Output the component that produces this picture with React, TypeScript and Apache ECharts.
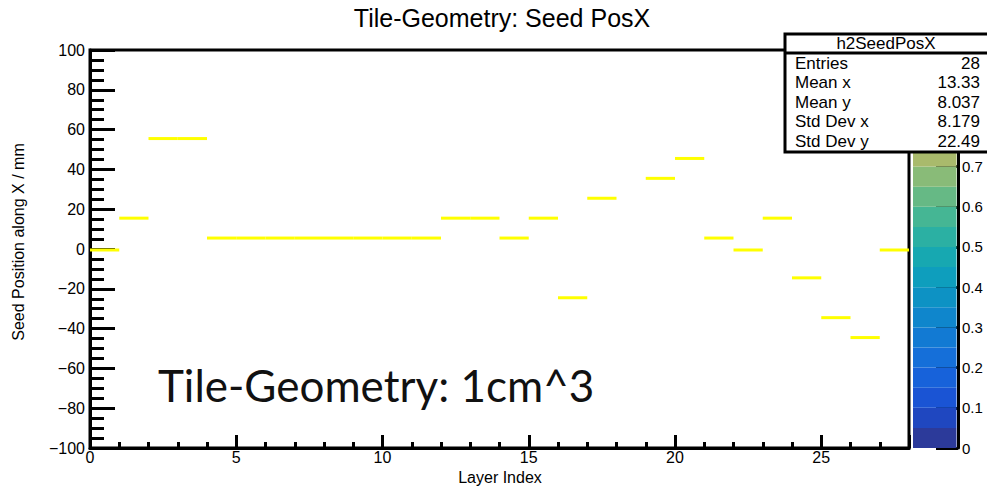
import React, { useEffect, useRef } from "react";
import * as echarts from "echarts";

// ---- data ----
const layerIndex = [0, 1, 2, 3, 4, 5, 6, 7, 8, 9, 10, 11, 12, 13, 14, 15, 16, 17, 19, 20, 21, 22, 23, 24, 25, 26, 27];
const seedPosX = [-0.5, 15.5, 55.5, 55.5, 5.5, 5.5, 5.5, 5.5, 5.5, 5.5, 5.5, 5.5, 15.5, 15.5, 5.5, 15.5, -24.5, 25.5, 35.5, 45.5, 5.5, -0.5, 15.5, -14.5, -34.5, -44.5, -0.5];
const statsLabels = ["Entries", "Mean x", "Mean y", "Std Dev x", "Std Dev y"];
const statsValues = ["28", "13.33", "8.037", "8.179", "22.49"];
const zPalette = [
  "#2c3a9a", "#1f47c0", "#1a54d4", "#1762da", "#156fd9", "#127ad3", "#0f86cc", "#0d92c4",
  "#0e9ebd", "#17a8b1", "#2bb0a3", "#45b694", "#66b985", "#89bb78", "#a9ba6c", "#c6b961",
  "#dcbb53", "#ecc444", "#f6d832", "#f9ef1f",
];
const zStep = 0.05;
const zMax = 0.99;

const FONT = "'Liberation Sans', Arial, sans-serif";

export default function App() {
  const ref = useRef<HTMLDivElement>(null);
  useEffect(() => {
    if (!ref.current) return;
    const chart = echarts.init(ref.current, null, { renderer: "svg" });
    const minus = (v: number) => String(v).replace("-", "\u2212");
    const segData = layerIndex.map((x, i) => [x, seedPosX[i]]);
    const bandData = zPalette.map((_, i) => [i * zStep, Math.min((i + 1) * zStep, zMax), i]);

    const statsChildren: any[] = [];
    statsLabels.forEach((l, i) => {
      const cy = 63 + i * 19.5;
      statsChildren.push({
        type: "text", x: 795, y: cy, z: 102,
        style: { text: l, font: `17px ${FONT}`, fill: "#000", textVerticalAlign: "middle", textAlign: "left" },
      });
      statsChildren.push({
        type: "text", x: 980, y: cy, z: 102,
        style: { text: statsValues[i], font: `17px ${FONT}`, fill: "#000", textVerticalAlign: "middle", textAlign: "right" },
      });
    });

    chart.setOption({
      animation: false,
      backgroundColor: "#fff",
      textStyle: { fontFamily: FONT },
      grid: [
        { left: 90, right: 78, top: 50, bottom: 39, show: true, borderColor: "#000", borderWidth: 3, containLabel: false, outerBoundsMode: "none" },
        { left: 913, width: 45, top: 50, bottom: 39, show: false, containLabel: false, outerBoundsMode: "none" },
      ],
      xAxis: [
        {
          gridIndex: 0, type: "value", min: 0, max: 28, interval: 1, position: "bottom",
          axisLine: { show: true, onZero: false, lineStyle: { color: "#000", width: 3 } },
          axisTick: { show: true, inside: true, length: 6, lineStyle: { color: "#000", width: 3 } },
          axisLabel: {
            show: true, margin: 1, color: "#000", fontSize: 16, fontFamily: FONT,
            formatter: (v: number) => (v % 5 === 0 && v < 28 ? String(v) : ""),
          },
          splitLine: { show: false },
        },
        {
          gridIndex: 0, type: "value", min: 0, max: 28, interval: 5, position: "bottom",
          axisLine: { show: false, onZero: false },
          axisTick: { show: true, inside: true, length: 13, lineStyle: { color: "#000", width: 3 } },
          axisLabel: { show: false },
          splitLine: { show: false },
        },
        { gridIndex: 1, type: "value", min: 0, max: 1, show: false },
      ],
      yAxis: [
        {
          gridIndex: 0, type: "value", min: -100, max: 100, interval: 20,
          axisLine: { show: true, onZero: false, lineStyle: { color: "#000", width: 3 } },
          axisTick: { show: true, inside: true, length: 25, lineStyle: { color: "#000", width: 3 } },
          minorTick: { show: true, splitNumber: 4, length: 14, lineStyle: { color: "#000", width: 3 } },
          axisLabel: { margin: 5, color: "#000", fontSize: 16, fontFamily: FONT, formatter: minus },
          splitLine: { show: false },
        },
        {
          gridIndex: 1, type: "value", min: 0, max: zMax, interval: 0.1, position: "right",
          axisLine: { show: true, onZero: false, lineStyle: { color: "#000", width: 3 } },
          axisTick: { show: true, inside: true, length: 22, lineStyle: { color: "#000", width: 3 } },
          axisLabel: {
            margin: 4, color: "#000", fontSize: 15, fontFamily: FONT,
            formatter: (v: number) => (v > 0.75 ? "" : String(+v.toFixed(1))),
          },
          splitLine: { show: false },
        },
      ],
      series: [
        {
          type: "custom", xAxisIndex: 0, yAxisIndex: 0, data: segData, z: 5,
          renderItem: (_p: any, api: any) => {
            const x = api.value(0), y = api.value(1);
            const a = api.coord([x, y]);
            const b = api.coord([x + 1, y]);
            return {
              type: "line",
              shape: { x1: a[0], y1: a[1], x2: b[0], y2: b[1] },
              style: { stroke: "#ffff00", lineWidth: 3 },
            };
          },
        },
        {
          type: "custom", xAxisIndex: 2, yAxisIndex: 1, data: bandData, z: 1,
          renderItem: (_p: any, api: any) => {
            const lo = api.value(0), hi = api.value(1), ci = api.value(2);
            const a = api.coord([0, hi]);
            const b = api.coord([1, lo]);
            return {
              type: "rect",
              shape: { x: a[0], y: a[1], width: b[0] - a[0] - 1.5, height: b[1] - a[1] },
              style: { fill: zPalette[ci] },
            };
          },
        },
      ],
      graphic: [
        {
          type: "text", x: 502, y: 18, z: 100,
          style: { text: "Tile-Geometry: Seed PosX", font: `25px ${FONT}`, fill: "#000", textAlign: "center", textVerticalAlign: "middle" },
        },
        {
          type: "text", x: 18, y: 242, rotation: Math.PI / 2, z: 100,
          style: { text: "Seed Position along X / mm", font: `16px ${FONT}`, fill: "#000", textAlign: "center", textVerticalAlign: "middle" },
        },
        {
          type: "text", x: 500, y: 477, z: 100,
          style: { text: "Layer Index", font: `16px ${FONT}`, fill: "#000", textAlign: "center", textVerticalAlign: "middle" },
        },
        {
          type: "text", x: 158, y: 407, z: 100,
          style: { text: "Tile-Geometry: 1cm^3", font: `44px Lato, 'Open Sans', sans-serif`, fill: "#111", textAlign: "left", textVerticalAlign: "bottom" },
        },
        {
          type: "rect", z: 100,
          shape: { x: 785, y: 34, width: 215, height: 118 },
          style: { fill: "#fff", stroke: "#000", lineWidth: 3 },
        },
        {
          type: "line", z: 101,
          shape: { x1: 785, y1: 53, x2: 990, y2: 53 },
          style: { stroke: "#000", lineWidth: 3 },
        },
        {
          type: "text", x: 886, y: 43, z: 102,
          style: { text: "h2SeedPosX", font: `17px ${FONT}`, fill: "#000", textAlign: "center", textVerticalAlign: "middle" },
        },
        ...statsChildren,
      ],
    });
    return () => chart.dispose();
  }, []);
  return <div ref={ref} style={{ position: "absolute", left: 0, top: 0, width: 987, height: 487 }} />;
}
